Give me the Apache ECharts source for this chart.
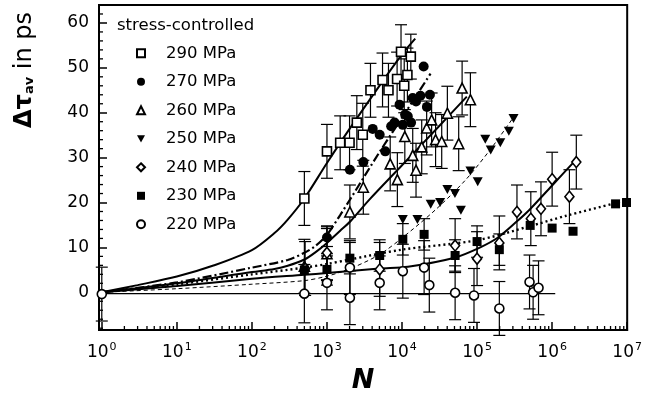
<!DOCTYPE html>
<html><head><meta charset="utf-8">
<script src="https://cdn.jsdelivr.net/npm/echarts@6/dist/echarts.min.js"></script>
<style>html,body{margin:0;padding:0;background:#fff}#c{width:645px;height:399px}</style>
</head><body><div id="c"></div>
<script>
// ---------- data ----------
const legendNames = ['290 MPa','270 MPa','260 MPa','250 MPa','240 MPa','230 MPa','220 MPa'];

const s290N = [500, 1000, 1500, 2000, 2500, 3000, 3800, 5500, 6600, 8600, 9700, 10700, 11800, 13100];
const s290Y = [20.9, 31.4, 33.3, 33.3, 37.8, 35.1, 45.0, 47.3, 45.0, 47.5, 53.6, 46.0, 48.4, 52.5];
const s290E = [6, 6, 6, 6, 6, 7, 6, 6, 6, 6, 6, 6, 6, 5];

const s270N = [1000, 2020, 3055, 4070, 5040, 5980, 7170, 7960, 9270, 10250, 10990, 11930, 13200, 13890, 15370, 17580, 19420, 21470, 23530];
const s270Y = [12.2, 27.3, 29.0, 36.4, 35.1, 31.4, 37.0, 37.8, 41.8, 37.3, 39.6, 39.2, 37.8, 43.3, 42.5, 43.8, 50.3, 41.3, 44.0];
const s270E = [2, 0, 0, 0, 0, 0, 0, 0, 0, 0, 0, 0, 0, 0, 0, 0, 0, 0, 0];

const s260N = [500, 1000, 2020, 3050, 6960, 8670, 10900, 13890, 15370, 18300, 21300, 24800, 28000, 33800, 40200, 56900, 63200, 81500];
const s260Y = [5.8, 8.6, 17.9, 23.4, 28.6, 25.1, 34.7, 30.5, 27.2, 32.4, 36.6, 38.4, 34.0, 33.6, 39.9, 33.1, 45.5, 42.9];
const s260E = [6, 6, 6, 6, 6, 6, 6, 6, 6, 6, 6, 6, 6, 6, 6, 6, 6, 6];

const s250N = [10250, 16050, 24100, 32200, 40200, 50700, 60900, 81500, 102000, 128600, 152000, 204000, 265000, 306000];
const s250Y = [16.2, 16.2, 19.6, 20.0, 22.9, 22.0, 18.3, 27.0, 24.6, 34.1, 31.7, 33.3, 35.9, 38.7];

const s240N = [512, 1000, 5040, 51000, 100000, 198000, 340000, 520000, 710000, 1000000, 1700000, 2100000];
const s240Y = [5.3, 8.8, 5.1, 10.4, 7.5, 11.0, 17.9, 16.4, 18.6, 25.2, 21.3, 29.0];
const s240E = [6, 6, 6, 6, 6, 6, 6, 6, 6, 6, 6, 6];

const s230N = [500, 1000, 2020, 5040, 10250, 19700, 51000, 100000, 198000, 510000, 1000000, 1900000, 7000000, 9800000];
const s230Y = [5.0, 5.1, 7.6, 8.2, 11.8, 12.9, 8.2, 11.3, 9.5, 14.9, 14.3, 13.6, 19.7, 20.0];
const s230E = [0, 3.5, 3.5, 3.5, 3.5, 3.5, 3.5, 3.5, 3.5, 0, 0, 0, 0, 0];

const s220N = [1, 500, 1000, 2020, 2020, 5040, 10250, 19700, 23100, 51000, 91000, 198000, 500000, 558000, 659000];
const s220Y = [-0.4, -0.3, 2.1, -1.2, 5.5, 2.1, 4.7, 5.5, 1.6, -0.1, -0.7, -3.6, 2.3, 0.0, 1.0];
const s220E = [6, 6.5, 6, 6, 6, 6, 6, 6, 6, 6, 6, 6, 6, 6, 6];

// fitted curves
const c290N = [1, 3, 10, 30, 100, 200, 300, 500, 1000, 2000, 5000, 10000, 15000];
const c290Y = [0, 1.6, 3.5, 5.9, 9.4, 13.2, 16.2, 20.9, 28.8, 36.4, 46.0, 53.0, 56.5];
const c270N = [1, 10, 100, 300, 500, 700, 1000, 1500, 2000, 5000, 10000, 24000];
const c270Y = [0, 2.2, 5.5, 7.2, 8.8, 10.3, 12.8, 17.2, 20.5, 31.2, 38.9, 48.7];
const c260N = [1, 10, 100, 200, 300, 500, 700, 1000, 1500, 2100, 3700, 10000, 30000, 73000];
const c260Y = [0, 2.0, 4.5, 5.2, 5.9, 7.3, 8.9, 11.0, 13.7, 16.0, 20.7, 28.3, 36.7, 43.6];
const c250N = [1, 10, 100, 500, 1000, 2000, 5000, 10000, 28000, 70000, 150000, 300000];
const c250Y = [0, 0.8, 1.8, 2.6, 3.6, 5.2, 8.4, 12.1, 18.4, 25.0, 31.8, 38.8];
const c240N = [1, 10, 100, 500, 1000, 5000, 12000, 50000, 107000, 190000, 340000, 500000, 1000000, 2100000];
const c240Y = [0, 1.4, 3.0, 3.9, 4.3, 5.3, 5.7, 7.7, 9.9, 12.2, 15.8, 18.4, 23.8, 29.6];
const c230N = [1, 10, 100, 500, 1000, 2000, 10000, 100000, 500000, 1500000, 7000000, 10000000];
const c230Y = [0, 1.8, 4.0, 5.5, 6.3, 7.3, 9.5, 11.6, 14.7, 17.0, 19.9, 20.7];
const c220N = [1, 1100000];
const c220Y = [-0.3, -0.3];

// axis ticks
const xMajorExp = [0, 1, 2, 3, 4, 5, 6, 7];
const xMinorMult = [2, 3, 4, 5, 6, 7, 8, 9];
const yMinorVals = [-8, -6, -4, -2, 2, 4, 6, 8, 12, 14, 16, 18, 22, 24, 26, 28, 32, 34, 36, 38, 42, 44, 46, 48, 52, 54, 56, 58, 62, 64];

// ---------- chart ----------
const FONT = 'DejaVu Sans';
const X_MIN = 0.918, X_MAX = 1e7, Y_MIN = -8.4, Y_MAX = 64;

const pts = (N, Y) => N.map((n, i) => [n, Y[i]]);
const errs = (N, Y, E) => N.map((n, i) => [n, Y[i] - E[i], Y[i] + E[i], E[i]]).filter(d => d[3] > 0);

const allErr = [].concat(
  errs(s290N, s290Y, s290E), errs(s270N, s270Y, s270E), errs(s260N, s260Y, s260E),
  errs(s240N, s240Y, s240E), errs(s230N, s230Y, s230E), errs(s220N, s220Y, s220E)
);

// minor tick anchors: [x, y, kind] kind 0 = bottom axis, 1 = left axis
const minorTicks = [];
xMajorExp.slice(0, 7).forEach(e => xMinorMult.forEach(m => minorTicks.push([m * Math.pow(10, e), 1, 0])));
yMinorVals.forEach(v => minorTicks.push([1, v, 1]));

const hollow = {color: '#fff', borderColor: '#000', borderWidth: 1.6, opacity: 1};
const solid = {color: '#000', borderColor: '#000', borderWidth: 0, opacity: 1};

function scatter(name, N, Y, symbol, size, style) {
  return {type: 'scatter', name, data: pts(N, Y), symbol, symbolSize: size, itemStyle: style, z: 5, silent: true};
}
function fit(name, N, Y, width, type) {
  return {type: 'line', name, data: pts(N, Y), smooth: 0.3, showSymbol: false, symbol: 'none',
    z: 3, silent: true, lineStyle: {color: '#000', width, type, opacity: 1}};
}

const option = {
  animation: false,
  backgroundColor: '#fff',
  textStyle: {fontFamily: FONT},
  grid: {left: 99, right: 14, top: 5, bottom: 68, show: true, borderColor: '#000', borderWidth: 2, containLabel: false},
  title: {text: 'stress-controlled', left: 117, top: 17, padding: 0,
    textStyle: {fontFamily: FONT, fontSize: 16.5, fontWeight: 'normal', color: '#000'}},
  legend: {
    data: legendNames, orient: 'vertical', left: 136, top: 44.3, itemWidth: 8, itemHeight: 8, itemGap: 10.5,
    padding: 0, selectedMode: false,
    textStyle: {fontFamily: FONT, fontSize: 16.5, color: '#000', lineHeight: 18, padding: [0, 0, 0, 16]}
  },
  xAxis: {
    type: 'log', logBase: 10, min: X_MIN, max: X_MAX,
    name: 'N', nameLocation: 'middle', nameGap: 37,
    nameTextStyle: {fontFamily: FONT, fontSize: 27, fontWeight: 'bold', fontStyle: 'italic', color: '#000'},
    axisLine: {show: true, onZero: false, lineStyle: {color: '#000', width: 2}},
    axisTick: {show: true, inside: true, length: 8, lineStyle: {color: '#000', width: 1.5}},
    splitLine: {show: false}, minorTick: {show: false},
    axisLabel: {
      margin: 12, color: '#000',
      formatter: v => {
        const l = Math.log10(v);
        if (Math.abs(l - Math.round(l)) > 1e-6) return '';
        return '{b|10}{s|' + Math.round(l) + '}';
      },
      rich: {
        b: {fontFamily: FONT, fontSize: 17, color: '#000'},
        s: {fontFamily: FONT, fontSize: 11, color: '#000', padding: [0, 0, 10, 1]}
      }
    }
  },
  yAxis: {
    type: 'value', min: Y_MIN, max: Y_MAX,
    axisLine: {show: true, onZero: false, lineStyle: {color: '#000', width: 2}},
    axisTick: {show: true, inside: true, length: 8, lineStyle: {color: '#000', width: 1.5}},
    splitLine: {show: false},
    axisLabel: {margin: 10, color: '#000', fontFamily: FONT, fontSize: 17,
      formatter: v => (Math.abs(v % 10) < 1e-9 ? String(v) : '')}
  },
  graphic: [{
    type: 'text', x: 25, y: 70, rotation: Math.PI / 2,
    style: {
      text: '{a|Δτ}{s|av}{b| in ps}', align: 'center', verticalAlign: 'middle',
      rich: {
        a: {fontFamily: FONT, fontSize: 24, fontWeight: 'bold', fill: '#000'},
        s: {fontFamily: FONT, fontSize: 13, fontWeight: 'bold', fill: '#000', padding: [10, 0, 0, 0]},
        b: {fontFamily: FONT, fontSize: 24, fill: '#000'}
      }
    }
  }],
  series: [
    {type: 'custom', name: 'errorbars', silent: true, z: 2, data: allErr, encode: {x: 0, y: [1, 2]},
      renderItem(params, api) {
        const x = api.value(0);
        const a = api.coord([x, api.value(2)]), b = api.coord([x, api.value(1)]);
        const w = 6, st = {stroke: '#000', lineWidth: 1.2};
        return {type: 'group', children: [
          {type: 'line', shape: {x1: a[0], y1: a[1], x2: b[0], y2: b[1]}, style: st},
          {type: 'line', shape: {x1: a[0] - w, y1: a[1], x2: a[0] + w, y2: a[1]}, style: st},
          {type: 'line', shape: {x1: b[0] - w, y1: b[1], x2: b[0] + w, y2: b[1]}, style: st}
        ]};
      }},
    {type: 'custom', name: 'minorticks', silent: true, z: 8, data: minorTicks, encode: {x: 0, y: 1},
      renderItem(params, api) {
        const kind = api.value(2);
        const cs = params.coordSys;
        let x1, y1, x2, y2;
        if (kind === 0) {
          const c = api.coord([api.value(0), 1]);
          x1 = x2 = c[0]; y1 = cs.y + cs.height; y2 = y1 - 4;
        } else {
          const c = api.coord([1, api.value(1)]);
          y1 = y2 = c[1]; x1 = cs.x; x2 = x1 + 4;
        }
        return {type: 'line', shape: {x1, y1, x2, y2}, style: {stroke: '#000', lineWidth: 1.3}};
      }},
    fit('fit290', c290N, c290Y, 2, 'solid'),
    fit('fit270', c270N, c270Y, 2.2, [9, 3, 2, 3]),
    fit('fit260', c260N, c260Y, 2, 'solid'),
    fit('fit250', c250N, c250Y, 1, [4, 3]),
    fit('fit240', c240N, c240Y, 2, 'solid'),
    fit('fit230', c230N, c230Y, 2.4, [2, 3]),
    fit('fit220', c220N, c220Y, 1.4, 'solid'),
    scatter('290 MPa', s290N, s290Y, 'rect', 9, hollow),
    scatter('270 MPa', s270N, s270Y, 'circle', 10, solid),
    scatter('260 MPa', s260N, s260Y, 'triangle', 10, hollow),
    scatter('250 MPa', s250N, s250Y, 'path://M0,0L10,0L5,9Z', [10, 9], solid),
    scatter('240 MPa', s240N, s240Y, 'diamond', [9, 11], hollow),
    scatter('230 MPa', s230N, s230Y, 'rect', 9, solid),
    scatter('220 MPa', s220N, s220Y, 'circle', 9, hollow)
  ]
};

const chart = echarts.init(document.getElementById('c'), null, {renderer: 'canvas'});
chart.setOption(option);
</script></body></html>
